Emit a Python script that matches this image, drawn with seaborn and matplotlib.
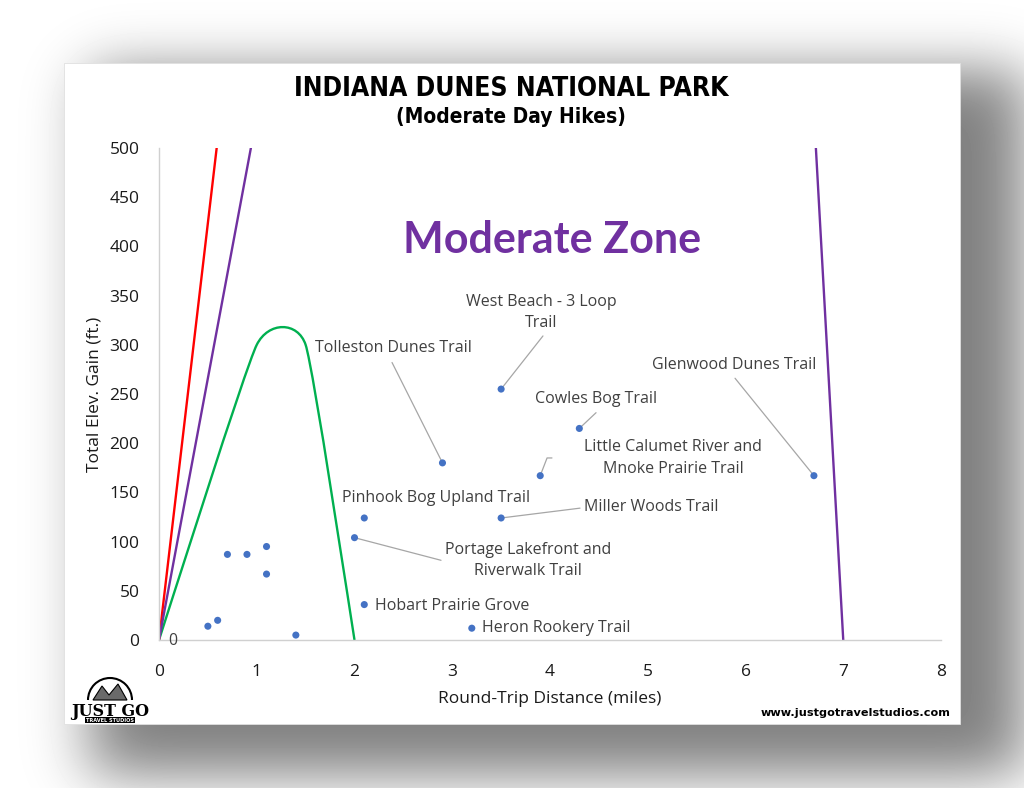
import math
import numpy as np
import pandas as pd
import matplotlib
matplotlib.use("Agg")
import matplotlib.pyplot as plt
import seaborn as sns
from matplotlib.path import Path
from matplotlib.patches import PathPatch, Rectangle, Arc, Polygon

# ---------------- data ----------------
trail_names = ["Tolleston Dunes Trail", "West Beach - 3 Loop\nTrail", "Cowles Bog Trail",
               "Little Calumet River and\nMnoke Prairie Trail", "Glenwood Dunes Trail",
               "Pinhook Bog Upland Trail", "Miller Woods Trail",
               "Portage Lakefront and\nRiverwalk Trail", "Hobart Prairie Grove", "Heron Rookery Trail"]
trail_miles = [2.9, 3.5, 4.3, 3.9, 6.7, 2.1, 3.5, 2.0, 2.1, 3.2]
trail_gain = [180, 255, 215, 167, 167, 124, 124, 104, 36, 12]

other_miles = [0.5, 0.6, 0.7, 0.9, 1.1, 1.1, 1.4]
other_gain = [14, 20, 87, 87, 95, 67, 5]

red_x = [0.0, 0.59]
red_y = [0, 500]
purple_left_x = [0.0, 0.94]
purple_left_y = [0, 500]
purple_right_x = [6.72, 7.0]
purple_right_y = [500, 0]
green_x = [0.0, 1.0, 1.5, 2.0]
green_y = [0, 300, 300, 0]

x_ticks = [0, 1, 2, 3, 4, 5, 6, 7, 8]
y_ticks = [0, 50, 100, 150, 200, 250, 300, 350, 400, 450, 500]

# ---------------- layout (label positions / leader lines) ----------------
label_layout = [
    # (text x, text y, ha, leader-line points)
    (2.394, 297, "center", [(2.384, 282), (2.9, 180)]),
    (3.908, 333, "center", [(3.928, 309), (3.5, 255)]),
    (4.471, 245, "center", [(4.471, 231), (4.3, 215)]),
    (5.258, 185, "center", [(4.02, 185), (3.97, 185), (3.9, 167)]),
    (5.882, 279, "center", [(5.893, 266), (6.7, 167)]),
    (2.834, 144, "center", None),
    (5.033, 135, "center", [(4.307, 134), (3.5, 124)]),
    (3.775, 81, "center", [(2.885, 81), (2.0, 104)]),
    (2.21, 35, "left", None),
    (3.304, 12, "left", None),
]

sns.set_theme(style="white")
plt.rcParams["font.family"] = ["Open Sans", "DejaVu Sans"]

W, H = 1024, 788
fig = plt.figure(figsize=(W / 100, H / 100), dpi=100)

# ---------------- background with drop shadow ----------------
bg = fig.add_axes([0, 0, 1, 1], zorder=-10)
bg.set_xlim(0, W)
bg.set_ylim(H, 0)
bg.axis("off")
erf = np.vectorize(math.erf)
xs = np.arange(W) + 0.5
ys = np.arange(H) + 0.5
sx, sy = 30.0, 28.0
px = 0.5 * (erf((xs - 90) / (sx * 1.414)) - erf((xs - 1025) / (sx * 1.414)))
py = 0.5 * (erf((ys - 70) / (sy * 1.414)) - erf((ys - 775) / (sy * 1.414)))
shadow = 1 - 0.5 * np.outer(py, px)
bg.imshow(shadow, cmap="gray", vmin=0, vmax=1, extent=(0, W, H, 0), aspect="auto",
          interpolation="bilinear")
bg.add_patch(Rectangle((64, 63), 896, 661, facecolor="white", edgecolor="#e0e0e0", lw=0.6))

# logo
bg.add_patch(Arc((110, 700), 44, 44, theta1=180, theta2=360, color="black", lw=1.5))
bg.add_patch(Polygon([(93, 700), (102, 686), (109, 695), (118, 684), (127, 700)],
                     closed=True, facecolor="#6a6a6a", edgecolor="black", lw=0.8))
bg.text(110, 711, "JUST GO", ha="center", va="center", fontsize=11.5, fontweight="bold",
        family="DejaVu Serif", color="black")
bg.text(110, 720, "TRAVEL STUDIOS", ha="center", va="center", fontsize=3.6,
        fontweight="bold", family="DejaVu Sans", color="white",
        bbox=dict(boxstyle="square,pad=0.12", facecolor="black", edgecolor="none"))
bg.text(950, 713, "www.justgotravelstudios.com", ha="right", va="center", fontsize=8.1,
        fontweight="bold", family="DejaVu Sans", color="black")

# titles
fig.text(511 / W, 1 - 89 / H, "INDIANA DUNES NATIONAL PARK", ha="center", va="center",
         fontsize=19, fontweight="heavy", family="DejaVu Sans", fontstretch="condensed",
         color="black")
fig.text(511 / W, 1 - 117 / H, "(Moderate Day Hikes)", ha="center", va="center",
         fontsize=15, fontweight="bold", family="DejaVu Sans", fontstretch="condensed",
         color="black")

# ---------------- chart ----------------
ax = fig.add_axes([159 / W, 1 - 640 / H, (941 - 159) / W, (640 - 148) / H])
ax.patch.set_alpha(0)

lw = 1.7
sns.lineplot(x=red_x, y=red_y, color="#FF0000", lw=lw, sort=False, estimator=None, ax=ax)
sns.lineplot(x=purple_left_x, y=purple_left_y, color="#7030A0", lw=lw, sort=False,
             estimator=None, ax=ax)
sns.lineplot(x=purple_right_x, y=purple_right_y, color="#7030A0", lw=lw, sort=False,
             estimator=None, ax=ax)

# smoothed green line (Bezier through the data points)
tension = 0.08
pts = list(zip(green_x, green_y))
verts = [pts[0]]
codes = [Path.MOVETO]
for i in range(len(pts) - 1):
    p0 = pts[i - 1] if i > 0 else pts[i]
    p1, p2 = pts[i], pts[i + 1]
    p3 = pts[i + 2] if i + 2 < len(pts) else pts[i + 1]
    c1 = (p1[0] + tension * (p2[0] - p0[0]), p1[1] + tension * (p2[1] - p0[1]))
    c2 = (p2[0] - tension * (p3[0] - p1[0]), p2[1] - tension * (p3[1] - p1[1]))
    verts += [c1, c2, p2]
    codes += [Path.CURVE4] * 3
ax.add_patch(PathPatch(Path(verts, codes), facecolor="none", edgecolor="#00B050", lw=lw))

pts_df = pd.DataFrame({"miles": trail_miles + other_miles, "gain": trail_gain + other_gain})
sns.scatterplot(data=pts_df, x="miles", y="gain", color="#4472C4", s=26, edgecolor="none",
                ax=ax, zorder=5)

# labels and leader lines
for name, (tx, ty, ha, leader) in zip(trail_names, label_layout):
    ax.text(tx, ty, name, ha=ha, va="center", fontsize=11.5, color="#404040",
            linespacing=1.45)
    if leader:
        lx, ly = zip(*leader)
        ax.plot(lx, ly, color="#a6a6a6", lw=0.9, zorder=3)

ax.text(0.09, -1, "0", ha="left", va="center", fontsize=11.5, color="#404040", clip_on=False)

ax.text(4.02, 406, "Moderate Zone", ha="center", va="center", fontsize=31,
        fontweight="bold", family="Lato", color="#7030A0")

ax.set_xlim(0, 8)
ax.set_ylim(0, 500)
ax.set_xticks(x_ticks)
ax.set_yticks(y_ticks)
ax.tick_params(axis="both", length=0, labelsize=12.5, labelcolor="#1a1a1a", pad=14)
ax.tick_params(axis="x", pad=17)
for side in ["top", "right"]:
    ax.spines[side].set_visible(False)
for side in ["left", "bottom"]:
    ax.spines[side].set_color("#d0d0d0")
    ax.spines[side].set_linewidth(1.0)
ax.set_xlabel("Round-Trip Distance (miles)", fontsize=12.5, color="#1a1a1a", labelpad=8)
ax.set_ylabel("Total Elev. Gain (ft.)", fontsize=12.5, color="#1a1a1a", labelpad=5)
ax.grid(False)

fig.savefig("out.png", dpi=100)
